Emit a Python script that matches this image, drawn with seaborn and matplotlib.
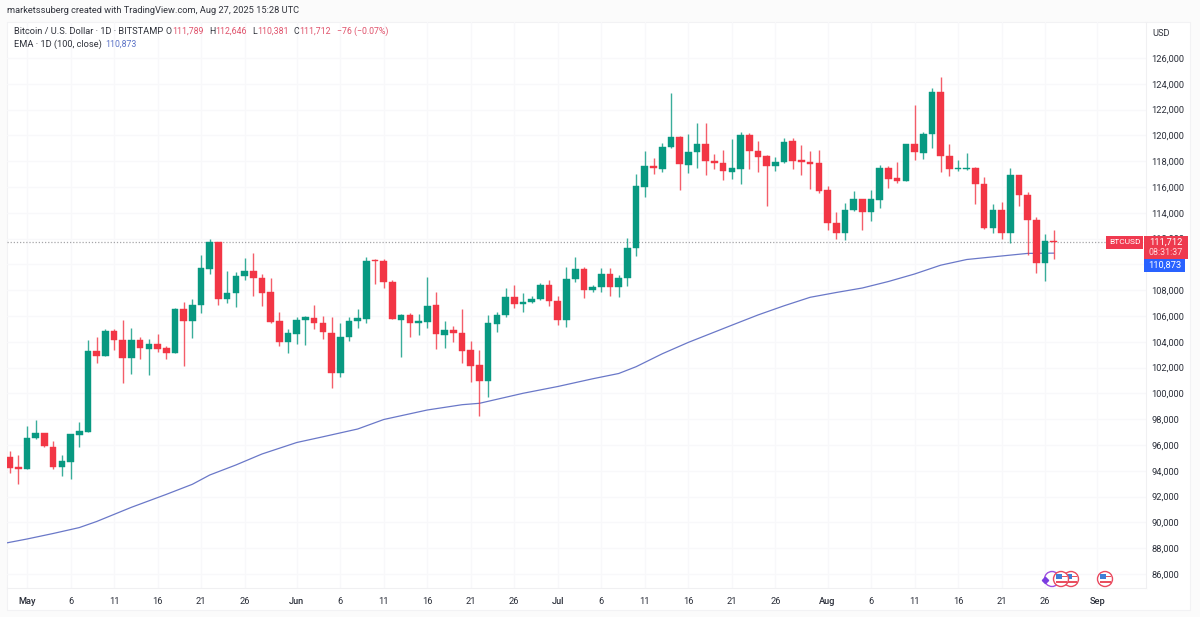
import pandas as pd
import numpy as np
import matplotlib
matplotlib.use('Agg')
import matplotlib.pyplot as plt
import matplotlib.patches as mpatches
import seaborn as sns

# btc daily candles (first one is Apr 29)
first_day = '2025-04-29'
opens = [
    95044, 94295, 94165, 96543, 96956, 95845, 94295, 94682, 96775, 97008,
    103287, 102925, 104837, 104140, 102770, 104140, 103468, 103804, 103519, 103106,
    106517, 105612, 106879, 109669, 111762, 107292, 107783, 109101, 109488, 108946,
    107861, 105587, 103985, 104605, 105690, 105871, 105432, 104708, 101556, 104372,
    105612, 105793, 110341, 110290, 108662, 105664, 106103, 105432, 105535, 106853,
    104553, 104941, 104656, 103339, 102227, 100961, 105380, 106078, 107447, 106956,
    107060, 107292, 108377, 107163, 105664, 108842, 109670, 107990, 108223, 109256,
    108274, 108920, 111297, 116000, 117602, 117422, 119075, 119876, 117732, 118688,
    119308, 118016, 117887, 117163, 117396, 120006, 118791, 118403, 117628, 117938,
    119540, 118068, 117964, 117835, 115742, 113235, 112460, 114192, 115044, 114088,
    115018, 117473, 116698, 116491, 119308, 118662, 120083, 123365, 118403, 117396,
    117421, 117473, 116259, 112822, 114243, 112460, 116905, 115406, 113468, 110083,
    111789]
highs = [
    95535, 95251, 97499, 97938, 96956, 96336, 95199, 96853, 97783, 104140,
    104346, 104992, 104966, 105690, 105044, 104346, 104217, 104631, 103674, 106594,
    107111, 107292, 110755, 111943, 111762, 109488, 109385, 110522, 110858, 109256,
    108972, 106336, 104966, 105948, 106000, 106879, 106026, 105948, 105432, 105948,
    106517, 110600, 110393, 110393, 108791, 106155, 106207, 106155, 109049, 107835,
    105612, 105251, 106517, 104062, 103364, 106078, 106336, 108196, 108377, 107809,
    107550, 108532, 108765, 107550, 109824, 110600, 109825, 108429, 109747, 109695,
    109179, 112021, 117008, 118817, 118248, 119437, 123261, 119954, 120109, 120987,
    120936, 118559, 118894, 119695, 120264, 120161, 119540, 118481, 118352, 119773,
    119825, 119282, 118791, 118894, 116052, 114037, 114760, 115716, 115100, 115768,
    117706, 117654, 117964, 119308, 122331, 120264, 123649, 124553, 119334, 118093,
    118662, 117576, 116801, 114656, 114863, 117447, 116956, 115638, 113700, 112383,
    112646]
lows = [
    93804, 92977, 94165, 96439, 95871, 94165, 93597, 93390, 95819, 97008,
    102331, 102925, 103364, 100780, 101478, 102641, 101426, 103209, 102693, 103106,
    102124, 104269, 106207, 109256, 106853, 106982, 106672, 108791, 107550, 106775,
    105432, 103674, 103158, 103830, 103752, 104966, 104191, 100444, 101246, 104036,
    105096, 105483, 108481, 108171, 105742, 102822, 104398, 104527, 105044, 103416,
    103519, 103985, 102331, 100910, 98274, 99747, 104734, 105948, 106646, 106336,
    106982, 107240, 106749, 105277, 105122, 108610, 107370, 107835, 107887, 107551,
    107447, 108352, 110677, 115251, 116982, 117189, 119024, 115768, 117060, 117473,
    116905, 117396, 116543, 116595, 116233, 117370, 117189, 114527, 117215, 117887,
    117370, 116905, 115819, 115509, 112667, 111969, 111892, 114166, 112667, 113390,
    114346, 115923, 116336, 116491, 118093, 118197, 118998, 117189, 116853, 117266,
    117318, 114682, 112770, 112408, 111969, 111685, 114527, 110729, 109308, 108713,
    110381]
closes = [
    94217, 94165, 96543, 96956, 95922, 94295, 94734, 96853, 97085, 103287,
    102925, 104863, 104114, 102770, 104140, 103519, 103804, 103468, 103106, 106543,
    105612, 106879, 109721, 111762, 107292, 107809, 109101, 109488, 108920, 107783,
    105561, 103985, 104656, 105690, 105948, 105432, 104734, 101556, 104372, 105638,
    105819, 110290, 110238, 108636, 105742, 106103, 105432, 105638, 106775, 104579,
    104941, 104656, 103287, 102124, 100961, 105483, 106103, 107447, 106930, 107111,
    107344, 108403, 107137, 105690, 108894, 109644, 108016, 108248, 109256, 108274,
    108946, 111297, 116052, 117602, 117473, 119127, 119876, 117757, 118714, 119308,
    117990, 117861, 117267, 117447, 120006, 118791, 118300, 117628, 117938, 119463,
    118016, 117913, 117809, 115716, 113210, 112460, 114243, 115070, 114088, 115044,
    117499, 116646, 116465, 119308, 118688, 120109, 123365, 118403, 117396, 117447,
    117499, 116233, 112822, 114243, 112460, 116905, 115380, 113468, 110083, 111788,
    111712]

# EMA 100 sampled along the curve
ema_dates = ['2025-04-28', '2025-05-01', '2025-05-04', '2025-05-07', '2025-05-09', '2025-05-13',
             '2025-05-17', '2025-05-20', '2025-05-22', '2025-05-25', '2025-05-28', '2025-06-01',
             '2025-06-04', '2025-06-08', '2025-06-11', '2025-06-16', '2025-06-20', '2025-06-22',
             '2025-06-27', '2025-07-01', '2025-07-05', '2025-07-08', '2025-07-10', '2025-07-13',
             '2025-07-16', '2025-07-21', '2025-07-24', '2025-07-27', '2025-07-30', '2025-08-02',
             '2025-08-05', '2025-08-08', '2025-08-11', '2025-08-14', '2025-08-17', '2025-08-21',
             '2025-08-24', '2025-08-27']
ema_vals = [88326, 88713, 89140, 89597, 90070, 91171,
            92171, 92954, 93674, 94450, 95302, 96194,
            96636, 97240, 97977, 98713, 99124, 99233,
            100008, 100535, 101132, 101543, 102070, 103070,
            103954, 105287, 106078, 106791, 107450, 107822,
            108171, 108675, 109256, 109938, 110380, 110652,
            110853, 110873]

tick_dates = ['2025-05-01', '2025-05-06', '2025-05-11', '2025-05-16', '2025-05-21', '2025-05-26',
              '2025-06-01', '2025-06-06', '2025-06-11', '2025-06-16', '2025-06-21', '2025-06-26',
              '2025-07-01', '2025-07-06', '2025-07-11', '2025-07-16', '2025-07-21', '2025-07-26',
              '2025-08-01', '2025-08-06', '2025-08-11', '2025-08-16', '2025-08-21', '2025-08-26',
              '2025-09-01']
tick_labels = ['May', '6', '11', '16', '21', '26', 'Jun', '6', '11', '16', '21', '26',
               'Jul', '6', '11', '16', '21', '26', 'Aug', '6', '11', '16', '21', '26', 'Sep']
price_ticks = list(range(86000, 126001, 2000))
# 110,000 sits under the blue EMA badge, nothing of it shows
price_labels = ['' if p == 110000 else f'{p:,}' for p in price_ticks]

UP = '#089981'
DOWN = '#f23645'
W, H = 1200, 617

sns.set_theme(style='white')
plt.rcParams['font.family'] = ['Roboto', 'DejaVu Sans']

df = pd.DataFrame({'open': opens, 'high': highs, 'low': lows, 'close': closes})
df['date'] = pd.date_range(first_day, periods=len(df))
df['colour'] = np.where(df['close'] >= df['open'], UP, DOWN)
ema = pd.DataFrame({'date': pd.to_datetime(ema_dates), 'ema': ema_vals})

fig = plt.figure(figsize=(W / 100, H / 100), dpi=100, facecolor='#fbfbfb')

# white panel behind the chart
fig.patches.append(mpatches.Rectangle((7 / W, 1 - 610 / H), 1183 / W, 588 / H, transform=fig.transFigure,
                                      facecolor='white', edgecolor='#f2f2f4', lw=0.8, zorder=-1))

ax = fig.add_axes([7 / W, 1 - 588 / H, 1139 / W, 566 / H])
ax.patch.set_alpha(0)

ax.grid(True, color='#f8f8fa', lw=1)
ax.set_axisbelow(True)

ax.axhline(closes[-1], color='#a5a5a8', lw=0.9, ls=(0, (1, 1.5)), zorder=1)
sns.lineplot(data=ema, x='date', y='ema', color='#6a78c8', lw=0.9, ax=ax, zorder=2)

ax.vlines(df['date'], df['low'], df['high'], colors=df['colour'], lw=1, alpha=0.8, zorder=3)
ax.bar(df['date'], (df['close'] - df['open']).abs(), bottom=df[['open', 'close']].min(axis=1),
       width=0.76, color=df['colour'], edgecolor=df['colour'], lw=0.3, zorder=4)

ax.set_xlim(pd.Timestamp('2025-05-01') - pd.Timedelta(days=2.3), pd.Timestamp('2025-05-01') + pd.Timedelta(days=128.6))
ax.set_ylim(84915, 128791)

ax.yaxis.tick_right()
ax.set_yticks(price_ticks)
ax.set_yticklabels(price_labels, fontsize=6.7, color='#2a2e39', va='center_baseline')
ax.set_xticks(pd.to_datetime(tick_dates))
ax.set_xticklabels(tick_labels, fontsize=6.7, color='#2a2e39')
for lab, txt in zip(ax.get_xticklabels(), tick_labels):
    if not txt.isdigit():
        lab.set_fontweight('medium')
ax.tick_params(axis='x', length=0, pad=6.5)
ax.tick_params(axis='y', length=0, pad=4)
ax.set_xlabel('')
ax.set_ylabel('')
for side in ['top', 'left']:
    ax.spines[side].set_visible(False)
for side in ['right', 'bottom']:
    ax.spines[side].set_color('#f0f0f2')
    ax.spines[side].set_linewidth(0.8)

# overlay in pixels for header, badges and event icons
top = fig.add_axes([0, 0, 1, 1], zorder=5)
top.set_xlim(0, W)
top.set_ylim(H, 0)
top.axis('off')

DARK = '#30333c'
RED = '#e0536c'
top.text(7, 10.5, 'marketssuberg created with TradingView.com, Aug 27, 2025 15:28 UTC', fontsize=6.7, color=DARK, va='center')
top.text(13.5, 31, 'Bitcoin / U.S. Dollar · 1D · BITSTAMP', fontsize=6.7, color=DARK, va='center')
for x, s, c in [(166, 'O', DARK), (172, '111,789', RED), (209, 'H', DARK), (215, '112,646', RED),
                (252, 'L', DARK), (257, '110,381', RED), (293, 'C', DARK), (299, '111,712', RED),
                (337, '−76 (−0.07%)', RED)]:
    top.text(x, 31, s, fontsize=6.3, color=c, va='center')
top.text(13.5, 44, 'EMA · 1D (100, close)', fontsize=6.7, color=DARK, va='center')
top.text(105, 44, '110,873', fontsize=6.3, color='#5b72c6', va='center')
top.text(1152, 33, 'USD', fontsize=6.7, color=DARK, va='center')

top.add_patch(mpatches.Rectangle((1106, 236), 37, 12.5, fc='#f0394f', ec='none'))
top.text(1124.5, 242.2, 'BTCUSD', fontsize=6, color='white', ha='center', va='center')
top.add_patch(mpatches.Rectangle((1144, 236), 44, 23, fc='#ee3a4e', ec='none'))
top.text(1166, 241.7, '111,712', fontsize=6.7, color='white', ha='center', va='center')
top.text(1166, 252.3, '08:31:37', fontsize=6.4, color='#ffd6da', ha='center', va='center')
top.add_patch(mpatches.Rectangle((1144, 259), 41, 12.5, fc='#2962ff', ec='none'))
top.text(1164.5, 265.2, '110,873', fontsize=6.7, color='white', ha='center', va='center')


def flag(x, y, z):
    top.add_patch(mpatches.Circle((x, y), 7.5, fc='white', ec='#ea4a5f', lw=1, zorder=z))
    top.add_patch(mpatches.Rectangle((x - 5, y - 5), 6, 5, fc='#3f7fd6', ec='none', zorder=z))
    top.add_patch(mpatches.Rectangle((x - 5.5, y + 1.5), 11, 2.2, fc='#e8505f', ec='none', zorder=z))
    top.add_patch(mpatches.Rectangle((x + 1, y - 3.5), 4.5, 1.5, fc='#e8505f', ec='none', zorder=z))


top.add_patch(mpatches.Circle((1052, 579), 7.5, fc='white', ec='#a050e0', lw=1, zorder=1))
top.plot([1045], [579.5], marker='D', ms=3.2, color='#7a3de0', zorder=2)
flag(1071, 579, 3)
flag(1061, 579, 4)
flag(1105, 579, 4)

fig.savefig('out.png', dpi=100, facecolor=fig.get_facecolor())
